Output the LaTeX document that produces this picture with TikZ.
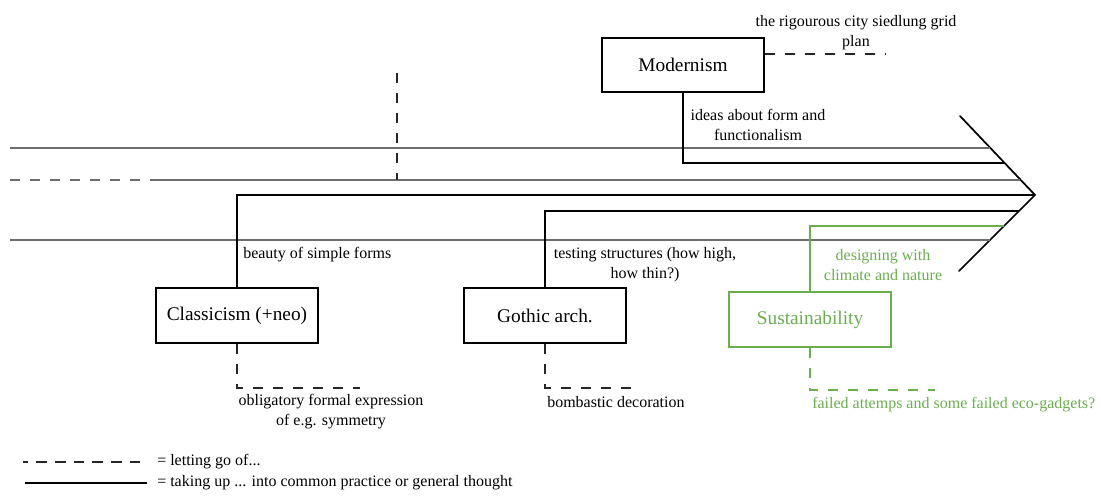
\documentclass[tikz,border=0pt]{standalone}
\usepackage{fontspec}
\setmainfont{Liberation Serif}
\definecolor{leaf}{RGB}{106,174,79}
\definecolor{thin}{RGB}{110,110,110}
\begin{document}
\begin{tikzpicture}[x=0.75pt,y=-0.75pt,
  era/.style={draw=black,line width=1.3pt,minimum width=121pt,minimum height=41pt,inner sep=0pt,font=\fontsize{14.5}{17}\selectfont},
  note/.style={inner sep=0pt,align=center,font=\fontsize{12}{15}\selectfont},
  take/.style={draw=black,line width=1.1pt},
  bg/.style={draw=thin,line width=1pt},
  letgo/.style={draw=black!85,line width=1.1pt,dash pattern=on 7.5pt off 7.5pt},
  tip/.style={draw=black,line width=1.3pt,line cap=round}]
\useasboundingbox (0,0) rectangle (1101,503);
% arrow head
\coordinate (up) at (960,116);
\coordinate (tp) at (1035,195);
\coordinate (lo) at (959,271);
\draw[tip] (up) -- (tp) -- (lo);
% background lines
\coordinate (a1) at (10,148); \coordinate (a2) at (990,148);
\coordinate (b0) at (10,180); \coordinate (b1) at (152,180); \coordinate (b2) at (1020,180);
\coordinate (c1) at (10,240); \coordinate (c2) at (990,240);
\draw[bg] (a1) -- (a2);
\draw[bg] (c1) -- (c2);
\draw[letgo,draw=thin] (b0) -- (b1);
\draw[bg] (b1) -- (b2);
\coordinate (v1) at (397,73); \coordinate (v2) at (397,180);
\draw[letgo] (v1) -- (v2);
% eras
\node[era] (mod) at (683,65) {Modernism};
\node[era] (cls) at (237,315.5) {Classicism (+neo)};
\node[era] (got) at (545,315.5) {Gothic arch.};
\node[era,draw=leaf,text=leaf] (sus) at (810,319.5) {Sustainability};
% taking up
\coordinate (mE) at (1004,163);
\coordinate (cE) at (1034,195);
\coordinate (gE) at (1019,211);
\coordinate (sE) at (1004,226);
\draw[take] (mod.south) |- (mE);
\draw[take] (cls.north) |- (cE);
\draw[take] (got.north) |- (gE);
\draw[take,draw=leaf] (sus.north) |- (sE);
% letting go
\coordinate (mD) at (885,54);
\coordinate (cD) at (360,388);
\coordinate (gD) at (632,388);
\coordinate (sD) at (935,390);
\draw[letgo] (mod.east |- mD) -- (mD);
\draw[letgo] (cls.south) |- (cD);
\draw[letgo] (got.south) |- (gD);
\draw[letgo,draw=leaf] (sus.south) |- (sD);
% labels
\node[note] (t1) at (856,33) {the rigourous city siedlung grid\\plan};
\node[note] (t2) at (758,125) {ideas about form and\\functionalism};
\node[note,anchor=west] (t3) at (243,255) {beauty of simple forms};
\node[note] (t4) at (645,265) {testing structures (how high,\\how thin?)};
\node[note,text=leaf] (t5) at (883,265) {designing with\\climate and nature};
\node[note] (t6) at (331,412) {obligatory formal expression\\of e.g. symmetry};
\node[note,anchor=west] (t7) at (547,402) {bombastic decoration};
\node[note,anchor=west,text=leaf] (t8) at (812,405) {failed attemps and some failed eco-gadgets?};
% legend
\coordinate (l1) at (23,462); \coordinate (l2) at (147,462);
\coordinate (l3) at (25,483); \coordinate (l4) at (147,483);
\draw[letgo,dash pattern=on 8pt off 6pt,dash phase=4pt] (l1) -- (l2);
\draw[take] (l3) -- (l4);
\node[note,anchor=west] (k1) at (157,462) {= letting go of...};
\node[note,anchor=west] (k2) at (157,483) {= taking up ... into common practice or general thought};
\end{tikzpicture}
\end{document}
